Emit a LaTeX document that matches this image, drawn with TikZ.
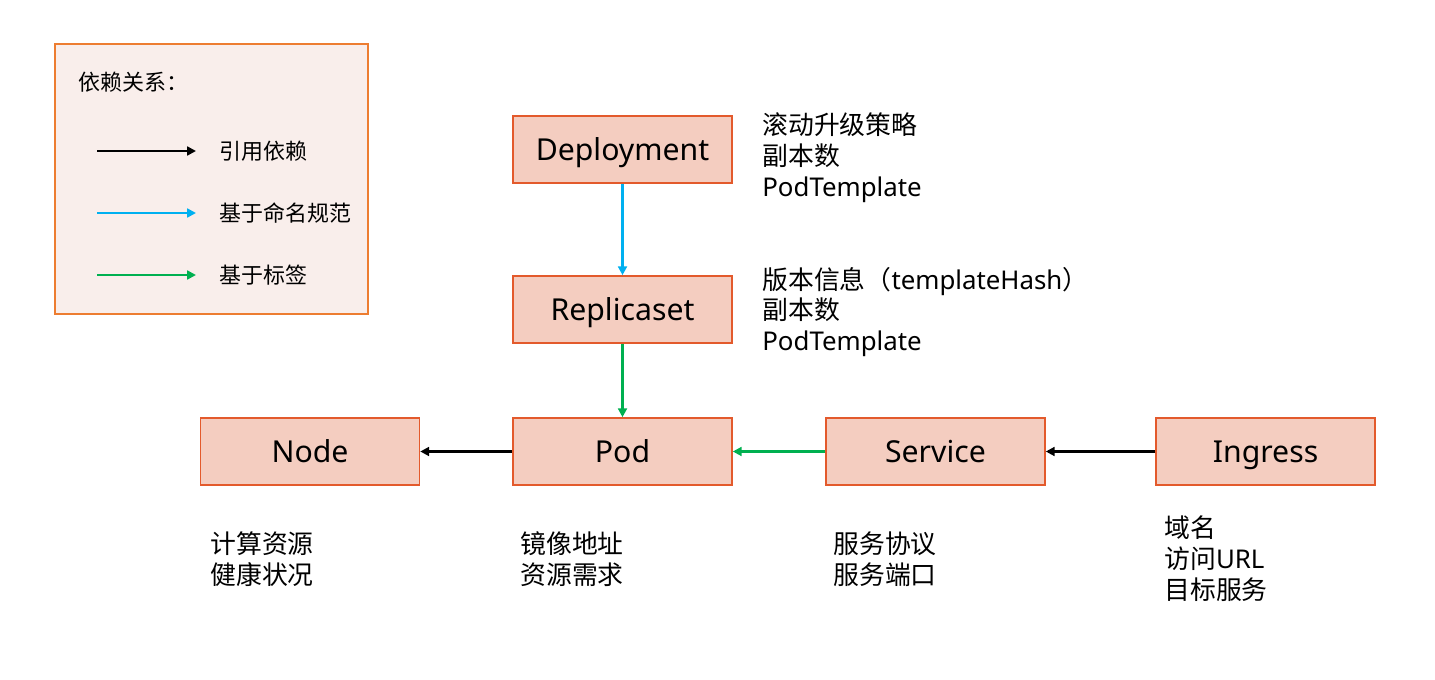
\documentclass[tikz,border=0pt]{standalone}
\usepackage{fontspec}
\setmainfont{Noto Sans CJK SC}
\newfontfamily\lat{Noto Sans}
\usetikzlibrary{arrows.meta}
\definecolor{boxfill}{HTML}{F4CDC0}
\definecolor{boxline}{HTML}{E35A2C}
\definecolor{legfill}{HTML}{F9EEEB}
\definecolor{legline}{HTML}{ED7D31}
\definecolor{nameblue}{HTML}{00B0F0}
\definecolor{labelgreen}{HTML}{00B050}

\begin{document}
\begin{tikzpicture}[x=0.02cm, y=-0.02cm,
    obj/.style={draw=boxline, fill=boxfill, line width=0.9pt, minimum width=4.38cm, minimum height=1.34cm, text height=12.3pt, text depth=0pt, font=\fontsize{17.2}{20}\selectfont\lat},
    note/.style={align=left, anchor=west, inner sep=0pt, font=\fontsize{14.7}{17.6}\selectfont},
    key/.style={anchor=west, inner sep=0pt, font=\fontsize{12.5}{15}\selectfont},
    dep/.style={-{Triangle[length=5pt, width=5pt]}, line width=1.4pt}]
    \useasboundingbox (0, 0) rectangle (1435, 679);

    % legend
    \node (legend) [draw=legline, fill=legfill, line width=0.9pt, minimum width=6.26cm, minimum height=5.4cm] at (211.5, 179) {};
    \node (title) [key] at (78, 82) {依赖关系：};
    \coordinate (k1) at (97, 151);
    \coordinate (k1e) at (196, 151);
    \coordinate (k2) at (97, 213);
    \coordinate (k2e) at (196, 213);
    \coordinate (k3) at (97, 275);
    \coordinate (k3e) at (196, 275);
    \node (ref) [key] at (219, 151) {引用依赖};
    \node (naming) [key] at (219, 213) {基于命名规范};
    \node (label) [key] at (219, 275) {基于标签};
    \draw[dep, line width=1.3pt] (k1) -- (k1e);
    \draw[dep, line width=1.3pt, nameblue] (k2) -- (k2e);
    \draw[dep, line width=1.3pt, labelgreen] (k3) -- (k3e);

    % objects
    \node (deploy) [obj] at (622.5, 149.5) {Deployment};
    \node (rs) [obj] at (622.5, 309.5) {Replicaset};
    \node (node) [obj] at (310, 451.5) {Node};
    \node (pod) [obj] at (622.5, 451.5) {Pod};
    \node (svc) [obj] at (935.5, 451.5) {Service};
    \node (ing) [obj] at (1265.5, 451.5) {Ingress};

    % notes
    \node (deploynote) [note] at (762, 158) {滚动升级策略\\副本数\\{\lat PodTemplate}};
    \node (rsnote) [note] at (762, 312) {版本信息（{\lat templateHash}）\\副本数\\{\lat PodTemplate}};
    \node (nodenote) [note] at (210, 559) {计算资源\\健康状况};
    \node (podnote) [note] at (520, 559) {镜像地址\\资源需求};
    \node (svcnote) [note] at (833, 559) {服务协议\\服务端口};
    \node (ingnote) [note] at (1164, 559) {域名\\访问{\lat URL}\\目标服务};

    \draw[dep, nameblue] (deploy) -- (rs);
    \draw[dep, labelgreen] (rs) -- (pod);
    \draw[dep] (pod) -- (node);
    \draw[dep, labelgreen] (svc) -- (pod);
    \draw[dep] (ing) -- (svc);
\end{tikzpicture}
\end{document}
